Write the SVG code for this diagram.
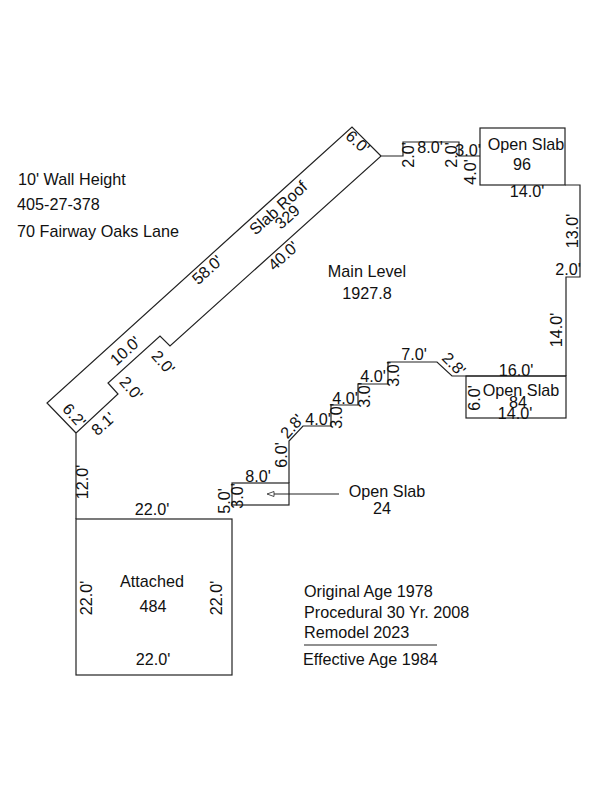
<svg xmlns="http://www.w3.org/2000/svg" width="600" height="800" viewBox="0 0 600 800">
<style>
text{font-family:"Liberation Sans",Arial,sans-serif;font-size:16.2px;fill:#111;text-anchor:middle}
.l{text-anchor:start}
.w{fill:none;stroke:#222;stroke-width:1.2}
</style>
<rect width="600" height="800" fill="#fff"/>
<g id="connectors">
<path class="w" d="M76,519V433L118,394L108,383L160,336L170,346L381,156H403V142H459V156H480"/>
<path class="w" d="M76,433L47,403L352,127L381,156"/>
<path class="w" d="M565,185H580V277H566V376"/>
<path class="w" d="M566,376H452L437,362H388V384H358V405H331V426H303L289,441V483"/>
<path class="w" d="M339,494H272"/>
<path d="M267,494L274,491.5V496.5Z" fill="#fff" stroke="#222" stroke-width="0.8"/>
<path class="w" d="M304,645H437"/>
</g>
<g id="main-level"><text x="367" y="277">Main Level</text><text x="367" y="299">1927.8</text></g>
<g id="slab-roof"><text transform="translate(282,212) rotate(-42)">Slab Roof</text><text transform="translate(291,221) rotate(-42)">329</text></g>
<g id="open-slab-96"><rect class="w" x="480" y="128" width="85" height="57"/><text x="526" y="150">Open Slab</text><text x="522" y="170">96</text></g>
<g id="open-slab-84"><rect class="w" x="466" y="376" width="100" height="42"/><text x="521" y="396">Open Slab</text><text x="518" y="408">84</text></g>
<g id="open-slab-24"><rect class="w" x="232" y="483" width="57" height="22"/><text x="387" y="497">Open Slab</text><text x="382" y="514">24</text></g>
<g id="attached"><rect class="w" x="76" y="519" width="156" height="156"/><text x="152" y="587">Attached</text><text x="153" y="612">484</text></g>
<g id="notes">
<text class="l" x="18" y="185">10' Wall Height</text>
<text class="l" x="17" y="210">405-27-378</text>
<text class="l" x="17" y="237">70 Fairway Oaks Lane</text>
<text class="l" x="304" y="597">Original Age 1978</text>
<text class="l" x="304" y="618">Procedural 30 Yr. 2008</text>
<text class="l" x="304" y="638">Remodel 2023</text>
<text class="l" x="303" y="665">Effective Age 1984</text>
</g>
<g id="dimensions">
<text transform="translate(354,146) rotate(42)">6.0'</text>
<text transform="translate(211,274) rotate(-42)">58.0'</text>
<text transform="translate(287,260) rotate(-42)">40.0'</text>
<text transform="translate(129,355) rotate(-42)">10.0'</text>
<text transform="translate(159,366) rotate(48)">2.0'</text>
<text transform="translate(127,392) rotate(48)">2.0'</text>
<text transform="translate(70,419) rotate(48)">6.2'</text>
<text transform="translate(107,428) rotate(-42)">8.1'</text>
<text transform="translate(88,482) rotate(-90)">12.0'</text>
<text x="152" y="515">22.0'</text>
<text transform="translate(92,598) rotate(-90)">22.0'</text>
<text transform="translate(222,598) rotate(-90)">22.0'</text>
<text x="153" y="665">22.0'</text>
<text transform="translate(230,501) rotate(-90)">5.0'</text>
<text transform="translate(243,496) rotate(-90)">3.0'</text>
<text x="258" y="482">8.0'</text>
<text transform="translate(287,455) rotate(-90)">6.0'</text>
<text transform="translate(296,430) rotate(-48)">2.8'</text>
<text x="318" y="425">4.0'</text>
<text transform="translate(342,416) rotate(-90)">3.0'</text>
<text x="345" y="404">4.0'</text>
<text transform="translate(370,395) rotate(-90)">3.0'</text>
<text x="373" y="382">4.0'</text>
<text transform="translate(399,374) rotate(-90)">3.0'</text>
<text x="414" y="360">7.0'</text>
<text transform="translate(450,368) rotate(45)">2.8'</text>
<text x="516" y="376">16.0'</text>
<text transform="translate(480,398) rotate(-90)">6.0'</text>
<text x="515" y="419">14.0'</text>
<text transform="translate(562,330) rotate(-90)">14.0'</text>
<text x="568" y="275">2.0'</text>
<text transform="translate(578,231) rotate(-90)">13.0'</text>
<text x="527" y="197">14.0'</text>
<text transform="translate(476,172) rotate(-90)">4.0'</text>
<text x="468" y="156">3.0'</text>
<text transform="translate(457,155) rotate(-90)">2.0'</text>
<text x="430" y="153">8.0'</text>
<text transform="translate(414,155) rotate(-90)">2.0'</text>
</g>
</svg>
